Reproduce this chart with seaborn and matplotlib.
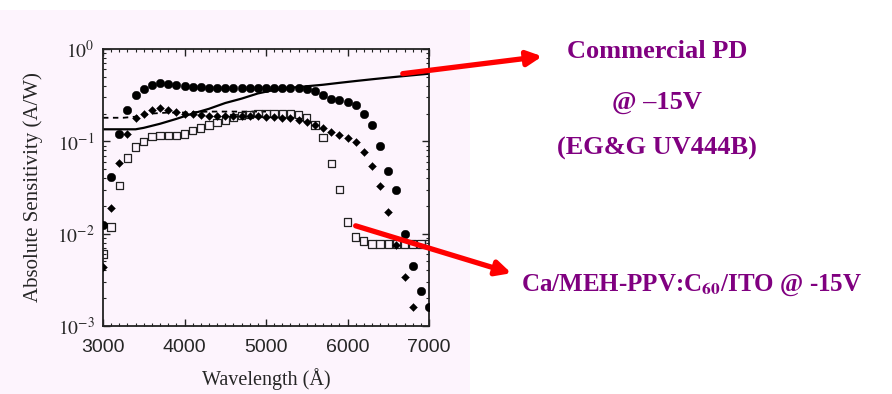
import numpy as np
import pandas as pd
import seaborn as sns
import matplotlib
matplotlib.use("Agg")
import matplotlib.pyplot as plt
from matplotlib.ticker import MultipleLocator, LogLocator, NullFormatter
from matplotlib.patches import FancyArrowPatch, Rectangle

# Wavelength grids (Angstrom)
wl_circle = list(range(3000, 7001, 100))
wl_diamond = list(range(3000, 6801, 100))
wl_square = list(range(3000, 7001, 100))

# Absolute sensitivity (A/W) of the polymer photodiodes
sens_circle = [0.0125, 0.041, 0.12, 0.22, 0.32, 0.37, 0.41, 0.43, 0.42, 0.41,
               0.40, 0.39, 0.385, 0.38, 0.38, 0.375, 0.375, 0.375, 0.375, 0.375,
               0.375, 0.375, 0.375, 0.375, 0.375, 0.37, 0.35, 0.32, 0.29, 0.28,
               0.27, 0.25, 0.20, 0.15, 0.089, 0.048, 0.030, 0.010, 0.0045, 0.0024,
               0.0016]
sens_diamond = [0.0044, 0.019, 0.058, 0.12, 0.18, 0.20, 0.22, 0.23, 0.22, 0.21,
                0.20, 0.20, 0.195, 0.19, 0.19, 0.19, 0.19, 0.19, 0.19, 0.19,
                0.185, 0.185, 0.18, 0.18, 0.17, 0.16, 0.15, 0.14, 0.126, 0.117,
                0.11, 0.098, 0.076, 0.054, 0.033, 0.017, 0.0075, 0.0034, 0.0016]
sens_square = [0.006, 0.0118, 0.033, 0.066, 0.087, 0.10, 0.113, 0.115, 0.115, 0.115,
               0.12, 0.13, 0.14, 0.15, 0.16, 0.17, 0.18, 0.19, 0.195, 0.20,
               0.20, 0.20, 0.20, 0.20, 0.195, 0.18, 0.15, 0.11, 0.058, 0.030,
               0.0134, 0.0092, 0.0083, 0.0077, 0.0077, 0.0077, 0.0077, 0.0077, 0.0077, 0.0077,
               0.0077]

# Commercial Si photodiode response (solid) and reference curve (dashed)
wl_commercial = [3000, 3400, 3500, 3700, 3900, 4100, 4300, 4500, 4700, 4900, 5100,
                 5300, 5500, 5700, 5900, 6100, 6300, 6500, 6700, 6900, 7000]
sens_commercial = [0.135, 0.135, 0.14, 0.155, 0.175, 0.20, 0.225, 0.26, 0.29, 0.33, 0.36,
                   0.38, 0.395, 0.41, 0.43, 0.45, 0.47, 0.49, 0.51, 0.53, 0.54]
wl_dashed = [3000, 3250, 3400, 3600, 3800, 4000, 4300, 4600, 5000]
sens_dashed = [0.18, 0.18, 0.185, 0.20, 0.205, 0.205, 0.21, 0.21, 0.21]

x_ticks = [3000, 4000, 5000, 6000, 7000]
y_ticks = [1e-3, 1e-2, 1e-1, 1e0]
y_tick_labels = [r"$10^{-3}$", r"$10^{-2}$", r"$10^{-1}$", r"$10^{0}$"]

sns.set_style("ticks")
plt.rcParams["font.family"] = ["Liberation Serif", "DejaVu Serif"]
plt.rcParams["mathtext.fontset"] = "stix"

bg = "#fdf4fd"
fig = plt.figure(figsize=(8.92, 3.94), dpi=100)
fig.patch.set_facecolor("white")
fig.add_artist(Rectangle((0, 0), 470 / 892, 1 - 10 / 394, transform=fig.transFigure,
                         facecolor=bg, edgecolor="none", zorder=-10))

ax = fig.add_axes([103 / 892, 1 - 326 / 394, 326 / 892, 277 / 394])
ax.set_facecolor(bg)

df_c = pd.DataFrame({"wl": wl_commercial, "s": sens_commercial})
df_d = pd.DataFrame({"wl": wl_dashed, "s": sens_dashed})
sns.lineplot(data=df_c, x="wl", y="s", ax=ax, color="black", lw=1.6, zorder=2)
sns.lineplot(data=df_d, x="wl", y="s", ax=ax, color="black", lw=1.3,
             linestyle=(0, (3, 2.5)), zorder=2)

sns.scatterplot(x=wl_square, y=sens_square, ax=ax, marker="s", s=28,
                facecolor="none", edgecolor="#222222", linewidth=0.9, zorder=3)
sns.scatterplot(x=wl_circle, y=sens_circle, ax=ax, marker="o", s=38,
                color="black", edgecolor="black", linewidth=0.3, zorder=4)
sns.scatterplot(x=wl_diamond, y=sens_diamond, ax=ax, marker="D", s=16,
                color="black", edgecolor="black", linewidth=0.3, zorder=4)

ax.set_yscale("log")
ax.set_xlim(3000, 7000)
ax.set_ylim(1e-3, 1e0)
ax.set_xticks(x_ticks)
ax.set_xticklabels([str(v) for v in x_ticks], family=["Liberation Sans", "DejaVu Sans"])
ax.xaxis.set_minor_locator(MultipleLocator(100))
ax.set_yticks(y_ticks)
ax.set_yticklabels(y_tick_labels)
ax.yaxis.set_minor_locator(LogLocator(base=10, subs=np.arange(2, 10)))
ax.yaxis.set_minor_formatter(NullFormatter())
ax.tick_params(which="both", direction="in", top=True, right=True, color="#222222")
ax.tick_params(which="major", length=5, width=1.0, labelsize=14)
ax.tick_params(axis="x", which="major", pad=9)
ax.tick_params(axis="y", which="major", pad=6)
ax.tick_params(which="minor", length=2.5, width=0.8)
for sp in ax.spines.values():
    sp.set_linewidth(1.3)
    sp.set_color("#222222")
    sp.set_visible(True)

ax.set_xlabel("Wavelength (Å)", fontsize=14.5, labelpad=9)
ax.set_ylabel("Absolute Sensitivity (A/W)", fontsize=15, labelpad=10)

purple = "#800080"
tkw = dict(color=purple, fontweight="bold", ha="center", va="center",
           family=["Liberation Serif", "DejaVu Serif"])
fig.text(657 / 892, 1 - 52 / 394, "Commercial PD", fontsize=19, **tkw)
fig.text(657 / 892, 1 - 102 / 394, "@ \u201315V", fontsize=19, **tkw)
fig.text(657 / 892, 1 - 148 / 394, "(EG&G UV444B)", fontsize=19, **tkw)
fig.text(692 / 892, 1 - 285 / 394, r"Ca/MEH-PPV:C$_{\mathbf{60}}$/ITO @ -15V",
         fontsize=18, **tkw)

for (x0, y0), (x1, y1) in [((400, 74), (545, 56)), ((353, 225), (514, 274))]:
    arr = FancyArrowPatch((x0 / 892, 1 - y0 / 394), (x1 / 892, 1 - y1 / 394),
                          transform=fig.transFigure, arrowstyle="-|>",
                          mutation_scale=22, lw=3.8, color="#ff0000", zorder=20)
    fig.add_artist(arr)

fig.savefig("out.png", dpi=100, facecolor="white")
